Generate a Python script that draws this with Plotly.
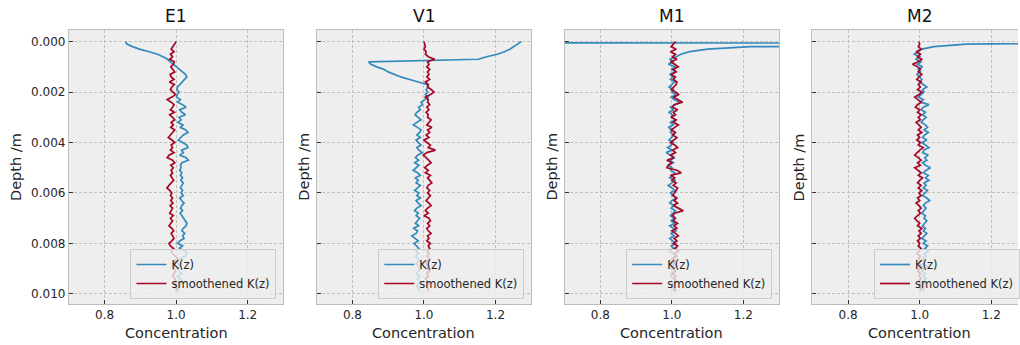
import plotly.graph_objects as go

# Depth samples (m), shared by all profiles
depth = [
    0.0000, 0.0001, 0.0002, 0.0003, 0.0004, 0.0005, 0.0006, 0.0007, 0.0008, 0.0009,
    0.0010, 0.0011, 0.0012, 0.0013, 0.0014, 0.0015, 0.0016, 0.0017, 0.0018, 0.0019,
    0.0020, 0.0021, 0.0022, 0.0023, 0.0024, 0.0025, 0.0026, 0.0027, 0.0028, 0.0029,
    0.0030, 0.0031, 0.0032, 0.0033, 0.0034, 0.0035, 0.0036, 0.0037, 0.0038, 0.0039,
    0.0040, 0.0041, 0.0042, 0.0043, 0.0044, 0.0045, 0.0046, 0.0047, 0.0048, 0.0049,
    0.0050, 0.0051, 0.0052, 0.0053, 0.0054, 0.0055, 0.0056, 0.0057, 0.0058, 0.0059,
    0.0060, 0.0061, 0.0062, 0.0063, 0.0064, 0.0065, 0.0066, 0.0067, 0.0068, 0.0069,
    0.0070, 0.0071, 0.0072, 0.0073, 0.0074, 0.0075, 0.0076, 0.0077, 0.0078, 0.0079,
    0.0080, 0.0081, 0.0082, 0.0083, 0.0084, 0.0085, 0.0086, 0.0087, 0.0088, 0.0089,
    0.0090, 0.0091, 0.0092, 0.0093, 0.0094, 0.0095, 0.0096, 0.0097, 0.0098, 0.0099,
]

panels = ["E1", "V1", "M1", "M2"]

k_E1 = [
    0.859, 0.862, 0.878, 0.897, 0.925, 0.948, 0.963, 0.976, 0.984, 0.993,
    1.002, 1.008, 1.019, 1.026, 1.030, 1.023, 1.016, 1.010, 1.004, 1.002,
    1.008, 1.003, 1.001, 1.012, 1.004, 1.018, 1.028, 1.010, 1.016, 1.026,
    1.008, 1.014, 1.005, 1.019, 1.012, 1.027, 1.033, 1.020, 1.012, 1.006,
    1.018, 1.030, 1.033, 1.015, 1.020, 1.010, 1.028, 1.034, 1.016, 1.012,
    1.014, 1.010, 1.016, 1.012, 1.018, 1.013, 1.020, 1.015, 1.012, 1.018,
    1.014, 1.020, 1.010, 1.015, 1.022, 1.016, 1.012, 1.018, 1.011, 1.016,
    1.020, 1.026, 1.030, 1.028, 1.020, 1.016, 1.024, 1.018, 1.022, 1.010,
    1.004, 1.018, 1.008, 1.025, 1.030, 1.026, 1.010, 1.000, 1.005, 1.012,
    1.002, 1.008, 1.015, 1.004, 1.010, 1.018, 1.006, 1.012, 1.004, 1.008,
]
smooth_E1 = [
    1.000, 0.996, 0.990, 0.986, 0.994, 0.984, 0.990, 0.982, 0.995, 0.992,
    0.985, 0.990, 0.996, 0.983, 0.986, 0.994, 0.981, 0.995, 0.988, 0.984,
    0.992, 0.998, 0.988, 0.975, 0.986, 0.994, 0.990, 0.984, 0.995, 0.982,
    0.990, 0.996, 0.986, 0.992, 0.985, 0.996, 0.990, 0.983, 0.978, 0.988,
    0.996, 0.986, 0.990, 0.984, 0.994, 0.980, 0.975, 0.990, 0.996, 0.985,
    0.992, 0.986, 0.990, 0.984, 0.988, 0.993, 0.986, 0.980, 0.974, 0.982,
    0.988, 0.984, 0.990, 0.985, 0.991, 0.983, 0.990, 0.986, 0.982, 0.992,
    0.984, 0.990, 0.986, 0.980, 0.988, 0.993, 0.986, 0.990, 0.994, 0.988,
    0.980, 0.984, 0.993, 0.986, 0.990, 0.998, 1.004, 0.996, 0.990, 0.996,
    0.992, 0.998, 0.994, 0.990, 0.997, 1.000, 0.995, 0.998, 1.002, 0.999,
]

k_V1 = [
    1.272, 1.262, 1.249, 1.240, 1.225, 1.205, 1.175, 1.152, 0.845, 0.852,
    0.868, 0.888, 0.900, 0.918, 0.935, 0.960, 0.985, 1.008, 1.012, 1.006,
    1.010, 1.004, 1.012, 1.000, 0.992, 0.996, 0.985, 0.990, 0.980, 0.975,
    0.984, 0.992, 0.980, 0.970, 0.982, 0.992, 0.988, 0.980, 0.990, 0.978,
    0.984, 0.992, 0.980, 0.986, 0.995, 0.982, 0.976, 0.985, 0.974, 0.986,
    0.978, 0.970, 0.982, 0.990, 0.976, 0.984, 0.978, 0.990, 0.982, 0.974,
    0.986, 0.980, 0.990, 0.978, 0.984, 0.992, 0.980, 0.974, 0.984, 0.978,
    0.988, 0.982, 0.976, 0.986, 0.970, 0.982, 0.978, 0.966, 0.976, 0.984,
    0.972, 0.980, 0.986, 0.978, 0.984, 0.976, 0.982, 0.988, 0.978, 0.985,
    0.992, 0.984, 0.978, 0.988, 0.982, 0.990, 0.984, 0.980, 0.986, 0.990,
]
smooth_V1 = [
    1.000, 1.002, 1.004, 1.000, 1.006, 1.004, 1.012, 1.030, 1.010, 1.014,
    1.008, 1.016, 1.010, 1.014, 1.008, 1.016, 1.004, 1.012, 1.010, 1.020,
    1.028, 1.018, 1.004, 1.012, 1.010, 1.016, 1.008, 1.014, 1.006, 1.012,
    1.010, 1.020, 1.014, 1.008, 1.022, 1.010, 1.016, 1.006, 1.014, 1.000,
    1.008, 1.018, 1.012, 1.032, 1.008, 0.998, 1.006, 1.014, 1.020, 1.010,
    1.002, 1.012, 1.004, 1.018, 1.010, 1.016, 1.022, 1.012, 1.008, 1.016,
    1.010, 1.018, 1.012, 1.006, 1.014, 1.020, 1.010, 1.004, 1.012, 1.000,
    1.014, 1.018, 1.010, 1.016, 1.008, 1.012, 1.020, 1.010, 1.014, 1.008,
    1.018, 1.012, 1.016, 1.010, 1.014, 1.008, 1.016, 1.012, 1.006, 1.014,
    1.010, 1.016, 1.008, 1.012, 1.004, 1.010, 1.014, 1.008, 1.012, 1.010,
]

k_M1 = [
    -8.000, 9.000, 1.220, 1.100, 1.050, 1.025, 1.012, 0.995, 1.004, 0.990,
    1.010, 0.998, 1.012, 0.994, 1.004, 0.996, 1.008, 1.000, 0.992, 1.004,
    1.000, 1.012, 0.998, 1.006, 1.022, 1.010, 0.996, 1.004, 0.992, 1.002,
    0.998, 1.010, 0.996, 1.004, 0.990, 1.002, 0.996, 1.006, 1.000, 0.992,
    1.004, 0.998, 0.988, 1.000, 0.984, 0.996, 1.008, 0.994, 1.004, 0.990,
    1.000, 0.996, 1.008, 1.002, 0.994, 1.010, 0.998, 0.990, 1.000, 1.008,
    0.996, 1.004, 1.012, 1.000, 0.994, 1.006, 0.998, 1.010, 1.002, 0.996,
    1.006, 0.998, 1.008, 0.994, 1.004, 1.012, 0.998, 1.006, 0.994, 1.002,
    1.010, 0.998, 1.006, 0.992, 1.004, 1.016, 1.002, 0.994, 1.008, 1.000,
    0.996, 1.010, 1.002, 0.996, 1.006, 1.014, 1.004, 0.998, 1.008, 1.004,
]
smooth_M1 = [
    1.010, 1.004, 0.998, 1.012, 0.996, 1.010, 1.002, 1.014, 0.996, 1.008,
    1.018, 1.004, 1.012, 0.998, 1.010, 1.004, 1.014, 1.012, 1.006, 0.998,
    1.010, 1.020, 1.004, 1.016, 1.030, 1.006, 1.002, 1.016, 1.004, 1.010,
    0.998, 1.012, 1.004, 1.018, 1.008, 0.998, 1.010, 1.002, 1.014, 1.006,
    0.996, 1.008, 1.016, 1.002, 1.010, 0.996, 1.006, 0.986, 1.000, 0.990,
    0.986, 1.014, 1.026, 0.996, 1.008, 1.000, 1.012, 1.004, 1.016, 1.012,
    1.008, 1.002, 1.014, 1.006, 1.016, 1.004, 1.018, 1.032, 1.008, 1.002,
    1.010, 1.004, 1.016, 1.006, 1.014, 1.000, 1.010, 1.018, 1.006, 1.014,
    1.004, 1.016, 1.008, 1.020, 1.006, 1.012, 1.002, 1.010, 1.006, 1.014,
    1.004, 1.010, 1.000, 1.012, 1.006, 1.014, 1.004, 1.010, 1.006, 1.012,
]

k_M2 = [
    2.000, 1.130, 1.040, 1.006, 0.995, 0.985, 1.000, 0.990, 1.004, 0.994,
    1.008, 0.996, 1.002, 0.992, 1.000, 1.006, 1.000, 1.012, 1.020, 1.008,
    1.012, 1.004, 0.996, 1.010, 1.002, 1.026, 1.010, 1.004, 1.016, 1.008,
    1.018, 1.010, 1.004, 1.016, 1.022, 1.012, 1.024, 1.014, 1.008, 1.020,
    1.006, 1.016, 1.026, 1.012, 1.008, 1.024, 1.014, 1.020, 1.008, 1.016,
    1.030, 1.018, 1.010, 1.024, 1.016, 1.026, 1.012, 1.018, 1.010, 1.022,
    1.014, 1.008, 1.020, 1.028, 1.016, 1.010, 1.018, 1.012, 1.006, 1.016,
    1.012, 1.020, 1.014, 1.008, 1.016, 1.010, 1.020, 1.014, 1.006, 1.018,
    1.010, 1.022, 1.014, 1.026, 1.012, 1.018, 1.008, 1.016, 1.010, 1.020,
    1.012, 1.006, 1.016, 1.010, 1.018, 1.008, 1.014, 1.006, 1.012, 1.008,
]
smooth_M2 = [
    0.998, 1.000, 0.996, 1.004, 0.990, 1.002, 0.994, 1.006, 0.996, 0.980,
    0.994, 1.002, 0.996, 1.006, 0.998, 0.992, 1.004, 0.996, 1.002, 0.994,
    1.006, 0.998, 0.986, 0.996, 1.004, 0.994, 0.988, 1.000, 0.994, 1.004,
    0.996, 1.002, 0.990, 0.998, 1.004, 0.996, 1.006, 0.994, 1.000, 0.992,
    1.002, 0.996, 1.010, 1.000, 0.994, 0.986, 0.996, 1.004, 0.994, 1.002,
    0.986, 0.996, 1.004, 0.996, 1.008, 1.000, 0.994, 1.004, 0.996, 1.006,
    0.998, 1.004, 0.994, 1.000, 0.990, 0.998, 1.004, 0.996, 1.002, 0.994,
    0.986, 0.992, 1.000, 0.994, 1.006, 0.998, 1.004, 0.996, 1.002, 0.994,
    1.000, 0.996, 1.004, 0.998, 0.992, 1.002, 0.996, 1.004, 0.998, 1.006,
    1.000, 0.994, 1.002, 0.998, 1.004, 0.996, 1.002, 0.998, 1.004, 1.000,
]

k_series = [k_E1, k_V1, k_M1, k_M2]
smooth_series = [smooth_E1, smooth_V1, smooth_M1, smooth_M2]

depth_ticks = [0.000, 0.002, 0.004, 0.006, 0.008, 0.010]
conc_ticks = [0.8, 1.0, 1.2]

# ---- styling (bmh-like) ----
W, H = 1020, 345
FONT = "DejaVu Sans"
BLUE = "#348ABD"
RED = "#A60628"
FACE = "#eeeeee"
EDGE = "#bcbcbc"
GRID = "#c0c0c0"
TEXT = "#262626"

ax_left = [69, 317.3, 565.7, 814]
ax_width = 215
ax_top, ax_bottom = 30, 304
x_lo, x_hi = 0.7, 1.3
y_range = [0.0104, -0.00046]

fig = go.Figure()
layout = dict(
    width=W, height=H,
    margin=dict(l=0, r=0, t=0, b=0),
    paper_bgcolor="white",
    plot_bgcolor=FACE,
    font=dict(family=FONT, size=12, color=TEXT),
    showlegend=True,
)

annotations = []
ydom = [(H - ax_bottom) / H, (H - ax_top) / H]

for i, name in enumerate(panels):
    sfx = "" if i == 0 else str(i + 1)
    left = ax_left[i]
    right = left + ax_width
    clip_right = min(right, W)
    # keep the pixel scale identical when the last panel runs past the page edge
    xr_hi = x_lo + (x_hi - x_lo) * (clip_right - left) / ax_width
    leg = "legend" + sfx

    fig.add_trace(go.Scatter(
        x=k_series[i], y=depth, mode="lines", name="K(z)",
        line=dict(color=BLUE, width=1.7),
        xaxis="x" + sfx, yaxis="y" + sfx, legend=leg,
    ))
    fig.add_trace(go.Scatter(
        x=smooth_series[i], y=depth, mode="lines", name="smoothened K(z)",
        line=dict(color=RED, width=1.7),
        xaxis="x" + sfx, yaxis="y" + sfx, legend=leg,
    ))

    layout["xaxis" + sfx] = dict(
        domain=[left / W, clip_right / W], anchor="y" + sfx,
        range=[x_lo, xr_hi], tickvals=conc_ticks, ticktext=[f"{v:.1f}" for v in conc_ticks],
        showgrid=True, gridcolor=GRID, gridwidth=0.8, griddash="3px,2px",
        zeroline=False, showline=True, linecolor=EDGE, linewidth=1, mirror=True,
        ticks="inside", ticklen=4, tickwidth=1, tickcolor="#333333",
        tickfont=dict(size=12, color=TEXT), automargin=False,
    )
    layout["yaxis" + sfx] = dict(
        domain=ydom, anchor="x" + sfx,
        range=y_range, tickvals=depth_ticks,
        ticktext=[f"{v:.3f}" for v in depth_ticks],
        showticklabels=(i == 0),
        showgrid=True, gridcolor=GRID, gridwidth=0.8, griddash="3px,2px",
        zeroline=False, showline=True, linecolor=EDGE, linewidth=1,
        mirror=(right <= W),
        ticks="inside", ticklen=4, tickwidth=1, tickcolor="#333333",
        tickfont=dict(size=12, color=TEXT), automargin=False,
    )
    layout[leg] = dict(
        x=(right - 7) / W, y=(H - 299) / H, xanchor="right", yanchor="bottom",
        xref="paper", yref="paper",
        bgcolor="rgba(238,238,238,0.8)", bordercolor="#cccccc", borderwidth=1,
        font=dict(family=FONT, size=11.5, color=TEXT),
        tracegroupgap=0, itemwidth=30,
    )

    cx = (left + right) / 2 / W
    annotations.append(dict(
        text=name, x=cx, y=1 - 15.5 / H, xref="paper", yref="paper",
        xanchor="center", yanchor="middle", showarrow=False,
        font=dict(family=FONT, size=17, color="#111111"),
    ))
    annotations.append(dict(
        text="Concentration", x=cx, y=1 - 333 / H, xref="paper", yref="paper",
        xanchor="center", yanchor="middle", showarrow=False,
        font=dict(family=FONT, size=14.5, color=TEXT),
    ))
    ylab_x = 16 if i == 0 else left - 13
    annotations.append(dict(
        text="Depth /m", x=ylab_x / W, y=1 - 167 / H, xref="paper", yref="paper",
        xanchor="center", yanchor="middle", showarrow=False, textangle=-90,
        font=dict(family=FONT, size=14.5, color=TEXT),
    ))

layout["annotations"] = annotations
fig.update_layout(**layout)
fig.write_html("out.html")
